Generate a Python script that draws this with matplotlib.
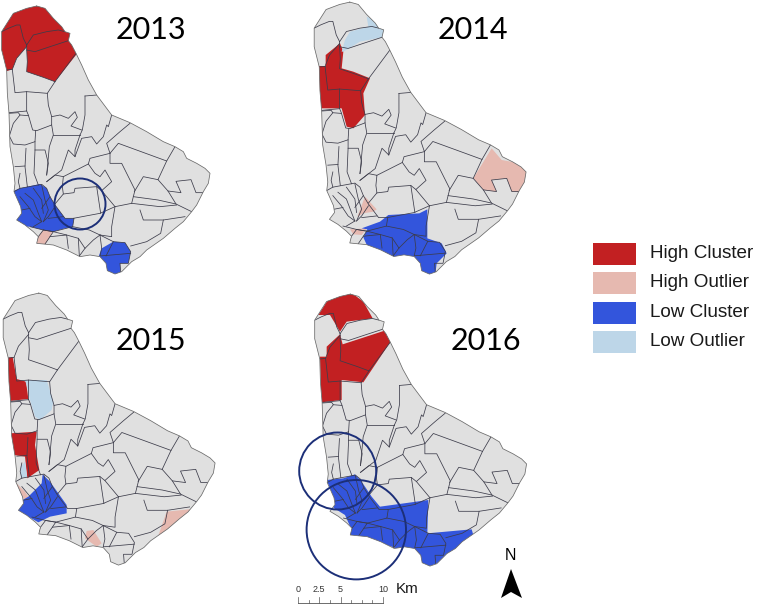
import matplotlib
matplotlib.use("Agg")
import numpy as np
import matplotlib.pyplot as plt
from matplotlib.patches import Polygon, Circle, Rectangle

plt.rcParams['font.family'] = ['Liberation Sans', 'DejaVu Sans']

# colours
RED = "#C22022"
PINK = "#E6B9B0"
BLUE = "#3355DC"
PALE = "#BDD6E8"
GREY = "#E0E0E0"
NAVY = "#1C2F78"

years = ["2013", "2014", "2015", "2016"]
year_x = [151, 473, 151, 486]
year_y = [30, 30, 341, 341]

legend_labels = ["High Cluster", "High Outlier", "Low Cluster", "Low Outlier"]
legend_colors = [RED, PINK, BLUE, PALE]
legend_top = [243, 272, 302, 331]

# island coast at 3x
coast = [(110,18),(135,25),(160,55),(185,80),(195,95),(210,100),(205,122),(215,135),(228,160),(245,195),
         (265,240),(290,285),(320,325),(335,345),(390,368),(440,395),(490,425),(525,440),(550,455),(560,475),
         (590,490),(615,505),(630,520),(625,550),(610,575),(590,615),(575,635),(550,665),(525,685),(490,715),
         (440,750),(420,770),(395,785),(365,815),(345,822),(322,812),(318,790),(300,770),(270,765),(240,770),
         (200,750),(160,735),(110,730),(115,710),(100,695),(75,675),(50,660),(65,640),(62,620),(42,575),
         (45,550),(40,500),(30,440),(27,340),(22,280),(20,210),(5,150),(5,95),(40,40),(80,25)]

# parish / district boundaries, same coordinates
borders = [
    [(5,95),(25,85),(50,75),(60,75),(70,115),(80,135)],
    [(80,135),(100,105),(140,95),(175,90),(195,95)],
    [(80,150),(105,155),(150,140),(205,122)],
    [(80,135),(80,150),(82,185),(80,215),(130,232),(165,245)],
    [(165,245),(228,160)],
    [(80,140),(50,175),(37,208)],
    [(20,210),(37,208),(45,278),(80,275),(142,280),(165,245)],
    [(80,275),(80,333),(27,338)],
    [(142,280),(145,315),(155,350),(180,345),(205,355),(225,335),(232,352),(213,378),(245,390)],
    [(255,288),(290,285)],
    [(255,288),(255,345),(247,390),(240,405)],
    [(155,350),(155,375),(110,392),(98,390),(85,345),(80,333)],
    [(27,340),(55,338),(60,345),(40,370),(28,408)],
    [(28,408),(40,432),(75,435),(105,425),(107,392)],
    [(60,345),(85,347)],
    [(160,405),(240,405)],
    [(155,375),(160,405),(148,440),(140,525)],
    [(240,405),(225,450),(225,470),(205,450),(185,510),(140,545)],
    [(105,425),(105,450),(102,520),(115,555)],
    [(78,445),(75,500),(82,560)],
    [(45,500),(75,498)],
    [(60,520),(55,545),(60,565)],
    [(105,450),(135,450),(145,490),(140,525)],
    [(335,345),(325,380),(320,375),(310,410),(290,432),(275,410),(245,415),(225,470)],
    [(390,370),(360,395),(320,430),(330,460),(355,430),(500,483)],
    [(330,460),(330,490),(365,490),(405,570),(400,590),(395,610)],
    [(525,440),(500,483),(474,539),(430,530),(403,575)],
    [(474,539),(504,573),(528,612),(575,635)],
    [(504,573),(543,578),(528,544),(573,539),(588,578),(617,578)],
    [(400,590),(474,600),(528,612)],
    [(220,655),(300,640),(345,620),(395,610),(480,620),(530,615)],
    [(345,620),(335,680),(335,710),(300,705),(280,720),(255,745),(238,768)],
    [(420,630),(430,660),(490,660),(555,650)],
    [(490,660),(482,700),(440,725),(392,738)],
    [(190,530),(265,492),(270,475),(330,460)],
    [(265,492),(285,520),(300,530),(315,510),(335,545),(305,572),(290,560),(225,565),(222,578),(190,582)],
    [(305,572),(345,620)],
    [(290,560),(302,640)],
    [(140,545),(165,525),(190,530),(187,560),(190,582),(165,612)],
    [(60,590),(85,620),(105,650),(125,665)],
    [(75,580),(100,600),(115,640),(125,665)],
    [(100,565),(125,600),(130,640)],
    [(125,555),(135,600),(145,630),(130,665)],
    [(150,590),(125,625)],
    [(165,620),(145,650),(130,665)],
    [(190,650),(145,655)],
    [(125,665),(100,680)],
    [(65,630),(90,625)],
    [(42,575),(60,565),(125,553),(140,565),(150,590),(165,615),(195,655),(222,655),(218,680),(160,695),(130,690),(90,680)],
    [(130,690),(160,695),(150,710),(135,732)],
    [(105,732),(115,710),(130,690)],
    [(160,695),(200,705),(235,715),(255,745)],
    [(150,710),(200,705),(205,745)],
    [(235,715),(238,768)],
    [(300,705),(340,725),(375,728),(392,755),(385,790),(360,790),(362,815)],
    [(300,705),(305,745),(300,768),(392,760)],
    [(218,680),(268,690),(300,705)],
    [(340,725),(318,768)],
]

red_2013 = [[(0,90),(40,30),(110,10),(140,20),(200,90),(215,100),(210,125),(232,160),(165,245),(130,232),(80,215),(82,185),(80,140),(50,175),(37,208),(15,215),(0,150)]]
pink_2013 = [[(130,690),(160,690),(150,710),(135,735),(100,735),(115,710)]]
blue_2013 = [[(35,575),(60,565),(120,552),(140,565),(150,590),(165,615),(195,655),(222,655),(218,680),(195,685),(160,695),(130,690),(90,680),(70,680),(40,665),(55,620)],
             [(305,745),(340,725),(375,728),(392,755),(385,790),(360,790),(362,830),(345,830),(315,815),(318,790),(295,772)]]
pale_2013 = []

red_2014 = [[(47,165),(90,130),(100,155),(95,205),(130,215),(180,235),(160,280),(165,345),(130,385),(110,380),(95,325),(30,325),(25,280),(25,198),(47,198)]]
pink_2014 = [[(142,650),(165,590),(200,628),(190,635),(160,640)],
             [(120,688),(170,685),(155,705),(130,703)],
             [(490,535),(545,445),(575,480),(630,490),(660,525),(645,578),(605,575),(590,535),(545,540),(560,575),(520,570)]]
blue_2014 = [[(155,685),(210,665),(235,645),(328,640),(352,628),(352,715),(395,730),(410,760),(380,790),(375,830),(345,830),(320,790),(305,770),(250,772),(175,745),(160,712),(172,688)]]
pale_2014 = [[(95,155),(105,120),(120,95),(175,80),(170,50),(230,75),(225,110),(150,125),(100,155)]]

red_2015 = [[(25,218),(38,216),(50,282),(78,290),(85,342),(28,348),(15,290)],
            [(30,445),(110,440),(105,480),(118,555),(82,580),(75,515),(42,510)]]
pink_2015 = [[(40,585),(75,620),(88,640),(80,650),(50,620)],
             [(260,738),(280,735),(305,775),(290,785),(255,760)],
             [(475,752),(500,680),(575,672),(520,730),(480,760)]]
blue_2015 = [[(128,568),(150,590),(200,660),(200,685),(150,695),(115,712),(85,695),(50,680),(60,650),(85,635),(110,610),(125,595)]]
pale_2015 = [[(75,285),(140,285),(160,350),(155,375),(120,405),(105,395),(90,345),(85,320)],
             [(62,545),(75,530),(82,578),(62,578)]]

red_2016 = [[(55,90),(90,90),(120,140),(140,110),(218,100),(190,50),(150,20),(90,35)],
            [(62,290),(60,215),(80,215),(80,185),(120,148),(128,178),(260,135),(275,165),(190,292),(125,285),(125,345),(65,352)]]
pink_2016 = []
blue_2016 = [[(80,585),(130,580),(165,568),(185,590),(215,635),(240,665),(385,645),(382,745),(515,733),(520,750),(480,795),(425,830),(385,845),(360,830),(345,795),(290,790),(245,775),(145,748),(155,735),(135,690),(100,668),(105,650)]]
pale_2016 = []

shaded = [
    {RED: red_2013, PINK: pink_2013, BLUE: blue_2013, PALE: pale_2013},
    {RED: red_2014, PINK: pink_2014, BLUE: blue_2014, PALE: pale_2014},
    {RED: red_2015, PINK: pink_2015, BLUE: blue_2015, PALE: pale_2015},
    {RED: red_2016, PINK: pink_2016, BLUE: blue_2016, PALE: pale_2016},
]
crop_origin = [(0, 0), (310, 0), (0, 285), (300, 285)]

# map placement of the traced island in each panel: sx, sy, dx, dy
placement = [(1, 1, 0, 0), (1.017, 1.015, 312.5, -4), (1.017, 1.015, 1.5, 287), (1.017, 1.015, 313, 288)]

circle_x = [80, 337.7, 356.3]
circle_y = [204, 471, 529.7]
circle_r = [25.5, 38.5, 49.7]

scale_km = [0, 2.5, 5, 10]
scale_ticks = np.arange(0, 10.01, 1.25)

fig = plt.figure(figsize=(7.57, 6.05), dpi=100)
ax = fig.add_axes([0, 0, 1, 1])
ax.set_xlim(0, 757)
ax.set_ylim(605, 0)
ax.axis("off")


def place(points, p):
    pts = np.array(points) / 3.0
    return np.column_stack([pts[:, 0] * p[0] + p[2], pts[:, 1] * p[1] + p[3]])


for i in range(4):
    p = placement[i]
    land = Polygon(place(coast, p), closed=True, fc=GREY, ec="none", zorder=1)
    ax.add_patch(land)
    for color, polys in shaded[i].items():
        for poly in polys:
            xy = np.array(poly) / 3.0 + np.array(crop_origin[i])
            patch = Polygon(xy, closed=True, fc=color, ec="none", zorder=2)
            ax.add_patch(patch)
            patch.set_clip_path(land)
    for line in borders:
        xy = place(line, p)
        l, = ax.plot(xy[:, 0], xy[:, 1], color="#3c3c4a", lw=0.55, zorder=3)
        l.set_clip_path(land)
    xy = place(coast + coast[:1], p)
    ax.plot(xy[:, 0], xy[:, 1], color="#6a6a6a", lw=0.55, zorder=3)
    ax.text(year_x[i], year_y[i], years[i], fontsize=22, family=["Lato", "DejaVu Sans"], ha="center", va="center", color="black", zorder=6)

for x, y, r in zip(circle_x, circle_y, circle_r):
    ax.add_patch(Circle((x, y), r, fc="none", ec=NAVY, lw=1.4, zorder=5, clip_on=False))

for label, color, top in zip(legend_labels, legend_colors, legend_top):
    ax.add_patch(Rectangle((593, top), 43, 21.5, fc=color, ec="none"))
    ax.text(650, top + 10.5, label, fontsize=13.6, va="center", ha="left", color="#1a1a1a")

# scale bar
bar_x = 298 + scale_ticks * 8.5
ax.plot([bar_x[0], bar_x[-1]], [603, 603], color="#555555", lw=0.6)
for km, x in zip(scale_ticks, bar_x):
    h = 6 if km in scale_km else 3
    ax.plot([x, x], [603, 603 - h], color="#555555", lw=0.5)
for km in scale_km:
    ax.text(298 + km * 8.5, 590, f"{km:g}", fontsize=6.5, ha="center", va="center", color="#333333")
ax.text(396, 589, "Km", fontsize=11, ha="left", va="center", color="#1a1a1a")

# north arrow
ax.text(510, 556, "N", fontsize=11.5, ha="center", va="center", color="black")
ax.add_patch(Polygon([(511, 569), (522, 598), (511, 592), (501, 598)], closed=True, fc="black", ec="none"))

fig.savefig("out.png", dpi=100)
